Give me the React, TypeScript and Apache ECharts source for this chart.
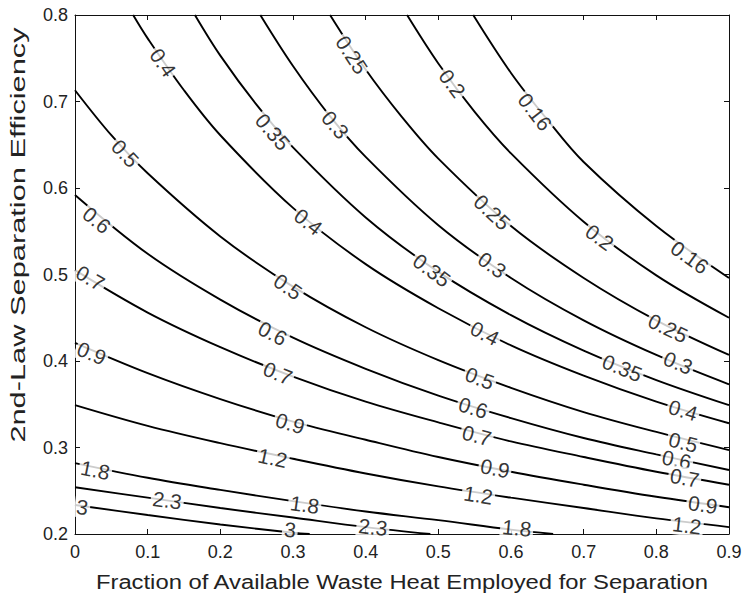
import React, { useEffect, useRef } from "react";
import * as echarts from "echarts";

// Contour levels and their traced curves ([x, y] points)
const levels = [0.16, 0.2, 0.25, 0.3, 0.35, 0.4, 0.5, 0.6, 0.7, 0.9, 1.2, 1.8, 2.3, 3];

const c016 = [[0.548, 0.8], [0.6, 0.733], [0.65, 0.679], [0.7, 0.63], [0.8, 0.556], [0.9, 0.496]];
const c020 = [[0.457, 0.8], [0.5, 0.744], [0.55, 0.688], [0.6, 0.64], [0.7, 0.561], [0.8, 0.499], [0.9, 0.45]];
const c025 = [[0.351, 0.8], [0.4, 0.737], [0.45, 0.682], [0.5, 0.634], [0.6, 0.556], [0.7, 0.496], [0.8, 0.447], [0.9, 0.407]];
const c030 = [[0.255, 0.8], [0.3, 0.741], [0.35, 0.684], [0.4, 0.636], [0.5, 0.557], [0.6, 0.496], [0.7, 0.447], [0.8, 0.407], [0.9, 0.373]];
const c035 = [[0.165, 0.8], [0.2, 0.753], [0.25, 0.696], [0.3, 0.647], [0.4, 0.566], [0.5, 0.503], [0.6, 0.453], [0.7, 0.412], [0.8, 0.378], [0.9, 0.349]];
const c040 = [[0.08, 0.8], [0.1, 0.773], [0.15, 0.713], [0.2, 0.661], [0.3, 0.577], [0.4, 0.512], [0.5, 0.461], [0.6, 0.418], [0.7, 0.383], [0.8, 0.353], [0.9, 0.328]];
const c050 = [[0, 0.713], [0.05, 0.661], [0.1, 0.617], [0.2, 0.544], [0.3, 0.486], [0.4, 0.439], [0.5, 0.401], [0.6, 0.369], [0.7, 0.341], [0.8, 0.318], [0.9, 0.297]];
const c060 = [[0, 0.592], [0.1, 0.524], [0.2, 0.471], [0.3, 0.427], [0.4, 0.391], [0.5, 0.36], [0.6, 0.334], [0.7, 0.311], [0.8, 0.292], [0.9, 0.274]];
const c070 = [[0, 0.505], [0.1, 0.456], [0.2, 0.416], [0.3, 0.382], [0.4, 0.353], [0.5, 0.329], [0.6, 0.307], [0.7, 0.289], [0.8, 0.272], [0.9, 0.257]];
const c090 = [[0, 0.421], [0.1, 0.386], [0.2, 0.356], [0.3, 0.33], [0.4, 0.309], [0.5, 0.289], [0.6, 0.272], [0.7, 0.257], [0.8, 0.243], [0.9, 0.231]];
const c120 = [[0, 0.349], [0.1, 0.325], [0.2, 0.305], [0.3, 0.287], [0.4, 0.27], [0.5, 0.255], [0.6, 0.242], [0.7, 0.23], [0.8, 0.218], [0.9, 0.208]];
const c180 = [[0, 0.282], [0.1, 0.265], [0.2, 0.251], [0.3, 0.238], [0.4, 0.226], [0.5, 0.216], [0.6, 0.205], [0.658, 0.2]];
const c230 = [[0, 0.254], [0.1, 0.242], [0.2, 0.23], [0.3, 0.219], [0.4, 0.208], [0.489, 0.2]];
const c300 = [[0, 0.2335], [0.1, 0.222], [0.2, 0.211], [0.3, 0.2015], [0.323, 0.2]];

const contours = [c016, c020, c025, c030, c035, c040, c050, c060, c070, c090, c120, c180, c230, c300];

// Inline contour labels: [level, x, y]
const contourLabels = [
  [0.4, 0.121, 0.745], [0.4, 0.321, 0.561], [0.4, 0.564, 0.432], [0.4, 0.837, 0.343],
  [0.35, 0.272, 0.665], [0.35, 0.491, 0.505], [0.35, 0.753, 0.392],
  [0.3, 0.358, 0.673], [0.3, 0.574, 0.511], [0.3, 0.83, 0.398],
  [0.25, 0.381, 0.754], [0.25, 0.574, 0.572], [0.25, 0.816, 0.438],
  [0.2, 0.519, 0.721], [0.2, 0.722, 0.543],
  [0.16, 0.633, 0.688], [0.16, 0.846, 0.52],
  [0.5, 0.069, 0.64], [0.5, 0.293, 0.486], [0.5, 0.557, 0.38], [0.5, 0.837, 0.306],
  [0.6, 0.03, 0.563], [0.6, 0.272, 0.432], [0.6, 0.548, 0.346], [0.6, 0.828, 0.286],
  [0.7, 0.021, 0.496], [0.7, 0.279, 0.386], [0.7, 0.553, 0.314], [0.7, 0.839, 0.265],
  [0.9, 0.023, 0.409], [0.9, 0.296, 0.328], [0.9, 0.578, 0.276], [0.9, 0.864, 0.234],
  [1.2, 0.272, 0.288], [1.2, 0.555, 0.245], [1.2, 0.842, 0.21],
  [1.8, 0.028, 0.274], [1.8, 0.316, 0.234], [1.8, 0.608, 0.207],
  [2.3, 0.127, 0.239], [2.3, 0.41, 0.208],
  [3, 0.01, 0.231], [3, 0.296, 0.205],
];

const xTickLabels = ["0", "0.1", "0.2", "0.3", "0.4", "0.5", "0.6", "0.7", "0.8", "0.9"];
const yTickLabels = ["0.2", "0.3", "0.4", "0.5", "0.6", "0.7", "0.8"];

const xTitle = "Fraction of Available Waste Heat Employed for Separation";
const yTitle = "2nd-Law Separation Efficiency";

const W = 751;
const H = 602;
const GRID = { left: 75, right: 22, top: 15, bottom: 68 };
const FONT = "'Liberation Sans', Arial, Helvetica, sans-serif";

function slopeAngle(points: number[][], x: number): number {
  const plotW = W - GRID.left - GRID.right;
  const plotH = H - GRID.top - GRID.bottom;
  let i = 0;
  while (i < points.length - 2 && points[i + 1][0] < x) i++;
  const dx = points[i + 1][0] - points[i][0];
  const dy = points[i + 1][1] - points[i][1];
  const pxSlope = (dy * plotH / 0.6) / (dx * plotW / 0.9);
  return (Math.atan(pxSlope) * 180) / Math.PI;
}

export default function App() {
  const ref = useRef<HTMLDivElement>(null);
  useEffect(() => {
    if (!ref.current) return;
    const chart = echarts.init(ref.current, undefined, { renderer: "svg" });

    const lineSeries = contours.map((pts, k) => ({
      type: "line",
      name: String(levels[k]),
      data: pts,
      smooth: 0.35,
      showSymbol: false,
      silent: true,
      lineStyle: { color: "#000", width: 1.9 },
      z: 2,
    }));

    const labelData = contourLabels.map(([lv, x, y]) => {
      const pts = contours[levels.indexOf(lv)];
      return {
        value: [x, y],
        label: {
          show: true,
          position: "inside",
          rotate: slopeAngle(pts, x),
          formatter: String(lv),
          fontSize: 21,
          fontFamily: FONT,
          color: "#000",
          backgroundColor: "#fff",
          padding: [0, 2],
        },
      };
    });

    const axisCommon = {
      type: "value",
      splitLine: { show: false },
      axisLine: { show: true, onZero: false, lineStyle: { color: "#111", width: 1 } },
      axisTick: { show: true, inside: true, length: 5, lineStyle: { color: "#111" } },
    };

    chart.setOption({
      animation: false,
      backgroundColor: "#fff",
      grid: { ...GRID, containLabel: false },
      xAxis: [
        {
          ...axisCommon,
          min: 0,
          max: 0.9,
          interval: 0.1,
          position: "bottom",
          axisLabel: {
            fontSize: 18,
            color: "#222",
            fontFamily: FONT,
            margin: 9,
            formatter: (v: number) => xTickLabels[Math.round(v / 0.1)],
          },
        },
        {
          ...axisCommon,
          min: 0,
          max: 0.9,
          interval: 0.1,
          position: "top",
          axisLabel: { show: false },
        },
      ],
      yAxis: [
        {
          ...axisCommon,
          min: 0.2,
          max: 0.8,
          interval: 0.1,
          position: "left",
          axisLabel: {
            fontSize: 18,
            color: "#222",
            fontFamily: FONT,
            margin: 7,
            formatter: (v: number) => yTickLabels[Math.round((v - 0.2) / 0.1)],
          },
        },
        {
          ...axisCommon,
          min: 0.2,
          max: 0.8,
          interval: 0.1,
          position: "right",
          axisLabel: { show: false },
        },
      ],
      graphic: [
        {
          type: "text",
          x: 402,
          y: 582,
          scaleX: 1.19,
          style: {
            text: xTitle,
            fontSize: 20,
            fontFamily: FONT,
            fill: "#222",
            textAlign: "center",
            textVerticalAlign: "middle",
          },
        },
        {
          type: "text",
          x: 18,
          y: 235,
          rotation: Math.PI / 2,
          scaleX: 1.54,
          style: {
            text: yTitle,
            fontSize: 20,
            fontFamily: FONT,
            fill: "#222",
            textAlign: "center",
            textVerticalAlign: "middle",
          },
        },
      ],
      series: [
        ...lineSeries,
        {
          type: "scatter",
          data: labelData,
          symbolSize: 0,
          silent: true,
          z: 5,
          label: {
            show: true,
            position: "inside",
            fontSize: 21,
            fontFamily: FONT,
            color: "#000",
            backgroundColor: "#fff",
            padding: [0, 2],
          },
        },
      ],
    });
    return () => chart.dispose();
  }, []);
  return <div ref={ref} style={{ position: "fixed", left: 0, top: 0, width: W, height: H }} />;
}
